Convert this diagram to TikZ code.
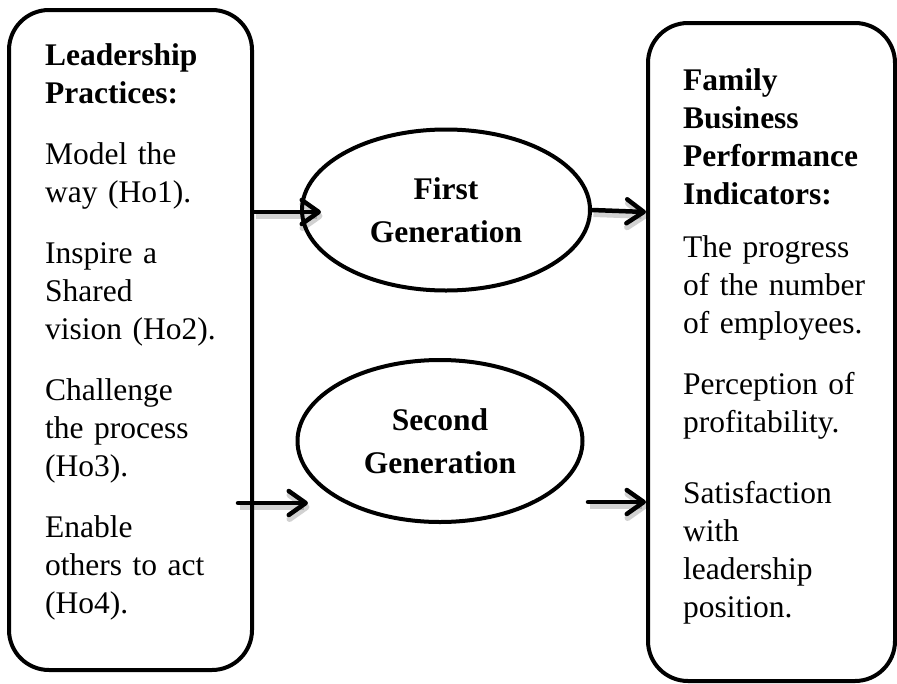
\documentclass[tikz,border=0pt]{standalone}
\usepackage{fontspec}
\setmainfont{Liberation Serif}
\usetikzlibrary{arrows.meta,shapes.geometric}
\begin{document}
\begin{tikzpicture}[x=1pt,y=-1pt,
  box/.style={draw, line width=4pt, rounded corners=40pt, inner sep=0pt},
  txt/.style={font=\fontsize{31.5}{38}\selectfont, text width=215pt, align=left, inner sep=0pt, anchor=base west},
  ell/.style={draw, ellipse, line width=4pt, font=\bfseries\fontsize{31.5}{43}\selectfont, align=center, inner sep=0pt},
  arr/.style={line width=4.5pt, line cap=round, -{Straight Barb[length=17pt,width=24pt,round]},
    preaction={draw=black, opacity=0.18, line width=6pt, transform canvas={shift={(1.5pt,-4pt)}}}}
]
\useasboundingbox (0,0) rectangle (897,683);
\clip (0,0) rectangle (897,683);

\node[box, minimum width=243pt, minimum height=660pt] (L) at (130.5,340) {};
\node[box, minimum width=247pt, minimum height=658pt] (R) at (771.5,352) {};

\node[ell, minimum width=288pt, minimum height=161pt] (E1) at (446,210) {First\\Generation};
\node[ell, minimum width=285pt, minimum height=162pt] (E2) at (440,441) {Second\\Generation};

\node[txt] (LT) at (45,65) {\textbf{Leadership}\\\textbf{Practices:}\\[23pt]
Model the\\way (Ho1).\\[23pt]
Inspire a\\Shared\\vision (Ho2).\\[23pt]
Challenge\\the process\\(Ho3).\\[23pt]
Enable\\others to act\\(Ho4).};

\node[txt] (RT) at (683,90) {\textbf{Family}\\\textbf{Business}\\\textbf{Performance}\\\textbf{Indicators:}\\[15pt]
The progress\\of the number\\of employees.\\[23pt]
Perception of\\profitability.\\[33pt]
Satisfaction\\with\\leadership\\position.};

\coordinate (a3s) at (238,503);
\coordinate (a4s) at (588,502);

\draw[arr] (L.east |- 0,212) -- (321,212);
\draw[arr] (E1.east) -- (R.west |- 0,212);
\draw[arr] (a3s) -- (308,503);
\draw[arr] (a4s) -- (R.west |- a4s);
\end{tikzpicture}
\end{document}
